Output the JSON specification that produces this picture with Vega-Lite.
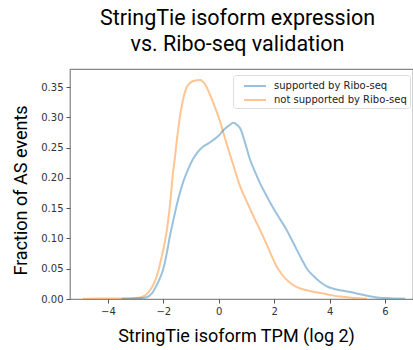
{
  "$schema": "https://vega.github.io/schema/vega-lite/v6.json",
  "autosize": "none",
  "width": 343,
  "height": 230,
  "padding": {"left": 70, "top": 69, "right": 0, "bottom": 51},
  "title": {
    "text": ["StringTie isoform expression", "vs. Ribo-seq validation"],
    "font": "Roboto",
    "fontSize": 21.5,
    "fontWeight": "normal",
    "color": "#000",
    "anchor": "middle",
    "dx": -4,
    "lineHeight": 26,
    "offset": 14
  },
  "config": {
    "view": {"stroke": "#888", "strokeWidth": 1.25},
    "axis": {
      "domain": false,
      "grid": false,
      "labelFont": "DejaVu Sans",
      "labelFontSize": 10,
      "labelColor": "#333",
      "tickColor": "#555",
      "tickSize": 4,
      "labelPadding": 3,
      "titleFont": "Roboto",
      "titleFontSize": 18,
      "titleFontWeight": "normal",
      "titleColor": "#000"
    }
  },
  "data": {
    "values": [
      {"g": "not supported by Ribo-seq", "x": -4.9, "y": 0.0005},
      {"g": "not supported by Ribo-seq", "x": -4.3, "y": 0.001},
      {"g": "not supported by Ribo-seq", "x": -3.8, "y": 0.0008},
      {"g": "not supported by Ribo-seq", "x": -3.3, "y": 0.001},
      {"g": "not supported by Ribo-seq", "x": -3.0, "y": 0.0015},
      {"g": "not supported by Ribo-seq", "x": -2.8, "y": 0.003},
      {"g": "not supported by Ribo-seq", "x": -2.66, "y": 0.006},
      {"g": "not supported by Ribo-seq", "x": -2.54, "y": 0.011},
      {"g": "not supported by Ribo-seq", "x": -2.42, "y": 0.019},
      {"g": "not supported by Ribo-seq", "x": -2.3, "y": 0.03},
      {"g": "not supported by Ribo-seq", "x": -2.18, "y": 0.047},
      {"g": "not supported by Ribo-seq", "x": -2.06, "y": 0.07},
      {"g": "not supported by Ribo-seq", "x": -1.94, "y": 0.096},
      {"g": "not supported by Ribo-seq", "x": -1.84, "y": 0.125},
      {"g": "not supported by Ribo-seq", "x": -1.74, "y": 0.165},
      {"g": "not supported by Ribo-seq", "x": -1.66, "y": 0.205},
      {"g": "not supported by Ribo-seq", "x": -1.58, "y": 0.235},
      {"g": "not supported by Ribo-seq", "x": -1.52, "y": 0.26},
      {"g": "not supported by Ribo-seq", "x": -1.45, "y": 0.285},
      {"g": "not supported by Ribo-seq", "x": -1.38, "y": 0.308},
      {"g": "not supported by Ribo-seq", "x": -1.3, "y": 0.327},
      {"g": "not supported by Ribo-seq", "x": -1.2, "y": 0.345},
      {"g": "not supported by Ribo-seq", "x": -1.04, "y": 0.357},
      {"g": "not supported by Ribo-seq", "x": -0.85, "y": 0.361},
      {"g": "not supported by Ribo-seq", "x": -0.67, "y": 0.362},
      {"g": "not supported by Ribo-seq", "x": -0.5, "y": 0.355},
      {"g": "not supported by Ribo-seq", "x": -0.31, "y": 0.337},
      {"g": "not supported by Ribo-seq", "x": -0.12, "y": 0.315},
      {"g": "not supported by Ribo-seq", "x": 0.05, "y": 0.293},
      {"g": "not supported by Ribo-seq", "x": 0.22, "y": 0.266},
      {"g": "not supported by Ribo-seq", "x": 0.41, "y": 0.238},
      {"g": "not supported by Ribo-seq", "x": 0.6, "y": 0.21},
      {"g": "not supported by Ribo-seq", "x": 0.77, "y": 0.186},
      {"g": "not supported by Ribo-seq", "x": 0.95, "y": 0.167},
      {"g": "not supported by Ribo-seq", "x": 1.13, "y": 0.149},
      {"g": "not supported by Ribo-seq", "x": 1.31, "y": 0.131},
      {"g": "not supported by Ribo-seq", "x": 1.49, "y": 0.114},
      {"g": "not supported by Ribo-seq", "x": 1.7, "y": 0.093},
      {"g": "not supported by Ribo-seq", "x": 1.9, "y": 0.072},
      {"g": "not supported by Ribo-seq", "x": 2.05, "y": 0.057},
      {"g": "not supported by Ribo-seq", "x": 2.21, "y": 0.045},
      {"g": "not supported by Ribo-seq", "x": 2.4, "y": 0.034},
      {"g": "not supported by Ribo-seq", "x": 2.57, "y": 0.027},
      {"g": "not supported by Ribo-seq", "x": 2.8, "y": 0.02},
      {"g": "not supported by Ribo-seq", "x": 3.18, "y": 0.0144},
      {"g": "not supported by Ribo-seq", "x": 3.5, "y": 0.011},
      {"g": "not supported by Ribo-seq", "x": 3.77, "y": 0.009},
      {"g": "not supported by Ribo-seq", "x": 4.1, "y": 0.006},
      {"g": "not supported by Ribo-seq", "x": 4.38, "y": 0.004},
      {"g": "not supported by Ribo-seq", "x": 4.8, "y": 0.002},
      {"g": "not supported by Ribo-seq", "x": 5.35, "y": 0.0005},
      {"g": "supported by Ribo-seq", "x": -3.5, "y": 0.0003},
      {"g": "supported by Ribo-seq", "x": -3.0, "y": 0.001},
      {"g": "supported by Ribo-seq", "x": -2.8, "y": 0.0015},
      {"g": "supported by Ribo-seq", "x": -2.6, "y": 0.003},
      {"g": "supported by Ribo-seq", "x": -2.42, "y": 0.009},
      {"g": "supported by Ribo-seq", "x": -2.24, "y": 0.023},
      {"g": "supported by Ribo-seq", "x": -2.12, "y": 0.035},
      {"g": "supported by Ribo-seq", "x": -2.0, "y": 0.05},
      {"g": "supported by Ribo-seq", "x": -1.88, "y": 0.075},
      {"g": "supported by Ribo-seq", "x": -1.76, "y": 0.105},
      {"g": "supported by Ribo-seq", "x": -1.64, "y": 0.13},
      {"g": "supported by Ribo-seq", "x": -1.52, "y": 0.155},
      {"g": "supported by Ribo-seq", "x": -1.4, "y": 0.176},
      {"g": "supported by Ribo-seq", "x": -1.28, "y": 0.194},
      {"g": "supported by Ribo-seq", "x": -1.1, "y": 0.215},
      {"g": "supported by Ribo-seq", "x": -0.92, "y": 0.232},
      {"g": "supported by Ribo-seq", "x": -0.74, "y": 0.244},
      {"g": "supported by Ribo-seq", "x": -0.56, "y": 0.252},
      {"g": "supported by Ribo-seq", "x": -0.37, "y": 0.257},
      {"g": "supported by Ribo-seq", "x": -0.19, "y": 0.263},
      {"g": "supported by Ribo-seq", "x": 0.0, "y": 0.27},
      {"g": "supported by Ribo-seq", "x": 0.17, "y": 0.279},
      {"g": "supported by Ribo-seq", "x": 0.35, "y": 0.286},
      {"g": "supported by Ribo-seq", "x": 0.53, "y": 0.291},
      {"g": "supported by Ribo-seq", "x": 0.65, "y": 0.288},
      {"g": "supported by Ribo-seq", "x": 0.77, "y": 0.282},
      {"g": "supported by Ribo-seq", "x": 0.95, "y": 0.258},
      {"g": "supported by Ribo-seq", "x": 1.13, "y": 0.23},
      {"g": "supported by Ribo-seq", "x": 1.31, "y": 0.21},
      {"g": "supported by Ribo-seq", "x": 1.49, "y": 0.191},
      {"g": "supported by Ribo-seq", "x": 1.73, "y": 0.17},
      {"g": "supported by Ribo-seq", "x": 1.97, "y": 0.15},
      {"g": "supported by Ribo-seq", "x": 2.21, "y": 0.132},
      {"g": "supported by Ribo-seq", "x": 2.45, "y": 0.114},
      {"g": "supported by Ribo-seq", "x": 2.63, "y": 0.098},
      {"g": "supported by Ribo-seq", "x": 2.82, "y": 0.081},
      {"g": "supported by Ribo-seq", "x": 3.0, "y": 0.065},
      {"g": "supported by Ribo-seq", "x": 3.18, "y": 0.05},
      {"g": "supported by Ribo-seq", "x": 3.42, "y": 0.038},
      {"g": "supported by Ribo-seq", "x": 3.66, "y": 0.028},
      {"g": "supported by Ribo-seq", "x": 3.9, "y": 0.021},
      {"g": "supported by Ribo-seq", "x": 4.14, "y": 0.017},
      {"g": "supported by Ribo-seq", "x": 4.44, "y": 0.014},
      {"g": "supported by Ribo-seq", "x": 4.74, "y": 0.0116},
      {"g": "supported by Ribo-seq", "x": 5.1, "y": 0.008},
      {"g": "supported by Ribo-seq", "x": 5.4, "y": 0.005},
      {"g": "supported by Ribo-seq", "x": 5.8, "y": 0.002},
      {"g": "supported by Ribo-seq", "x": 6.3, "y": 0.001},
      {"g": "supported by Ribo-seq", "x": 6.73, "y": 0.0005}
    ]
  },
  "mark": {"type": "line", "interpolate": "monotone", "strokeWidth": 2, "strokeOpacity": 0.45, "clip": true},
  "encoding": {
    "x": {
      "field": "x",
      "type": "quantitative",
      "scale": {"domain": [-5.37, 7.01], "nice": false, "zero": false},
      "axis": {"values": [-4, -2, 0, 2, 4, 6], "title": "StringTie isoform TPM (log 2)", "titlePadding": 11, "titleX": 166}
    },
    "y": {
      "field": "y",
      "type": "quantitative",
      "scale": {"domain": [0, 0.38], "nice": false},
      "axis": {"values": [0, 0.05, 0.1, 0.15, 0.2, 0.25, 0.3, 0.35], "format": ".2f", "title": "Fraction of AS events", "titlePadding": 10, "titleY": 121}
    },
    "color": {
      "field": "g",
      "type": "nominal",
      "scale": {"domain": ["supported by Ribo-seq", "not supported by Ribo-seq"], "range": ["#1f77b4", "#ff7f0e"]},
      "legend": {
        "title": null,
        "orient": "none",
        "legendX": 163,
        "legendY": 6,
        "symbolType": "M-1.467,0H1.467",
        "symbolSize": 225,
        "symbolOffset": 11,
        "symbolStrokeWidth": 2,
        "symbolOpacity": 0.45,
        "labelFont": "DejaVu Sans",
        "labelFontSize": 10,
        "labelColor": "#222",
        "labelOffset": 10.5,
        "rowPadding": 0,
        "padding": 2.5,
        "strokeColor": "#ddd",
        "fillColor": "white",
        "cornerRadius": 3
      }
    }
  }
}
